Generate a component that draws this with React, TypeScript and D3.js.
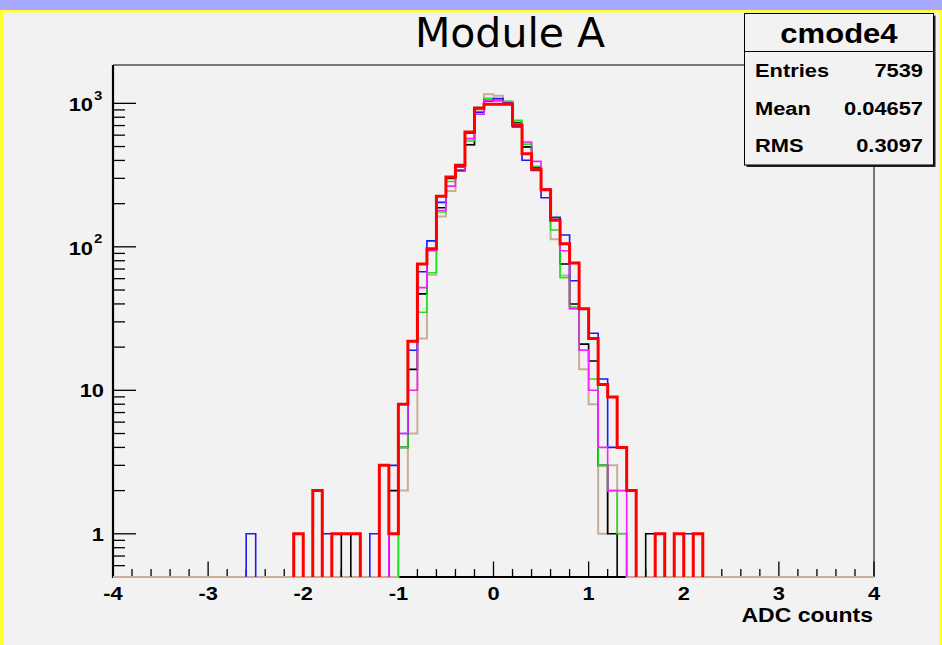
import React from "react";
import * as d3 from "d3";

// ---------- data ----------
const BIN_LOW = [
  -2.6, -2.5, -2.4, -2.3, -2.2, -2.1, -2.0, -1.9, -1.8, -1.7,
  -1.6, -1.5, -1.4, -1.3, -1.2, -1.1, -1.0, -0.9, -0.8, -0.7,
  -0.6, -0.5, -0.4, -0.3, -0.2, -0.1, 0.0, 0.1, 0.2, 0.3,
  0.4, 0.5, 0.6, 0.7, 0.8, 0.9, 1.0, 1.1, 1.2, 1.3,
  1.4, 1.5, 1.6, 1.7, 1.8, 1.9, 2.0, 2.1,
];
const BIN_WIDTH = 0.1;

const tanCounts = [
  0, 0, 0, 0, 0, 0, 0, 0, 0, 0,
  0, 0, 0, 0, 0, 0, 2, 5, 23, 64,
  163, 245, 370, 515, 905, 1158, 1130, 1030, 740, 497,
  360, 250, 113, 63, 37, 14, 8, 1, 3, 1,
  0, 0, 0, 0, 0, 0, 0, 0,
];
const blackCounts = [
  0, 0, 0, 0, 0, 0, 0, 0, 0, 0,
  1, 0, 0, 0, 0, 2, 4, 14, 47, 97,
  187, 300, 341, 515, 935, 1040, 1050, 1007, 730, 497,
  360, 250, 160, 76, 40, 21, 16, 3, 1, 0,
  0, 0, 1, 0, 0, 0, 0, 0,
];
const greenCounts = [
  0, 0, 0, 0, 0, 0, 0, 0, 0, 0,
  0, 0, 0, 0, 0, 0, 4, 22, 35, 66,
  175, 285, 364, 546, 872, 1085, 1060, 1035, 762, 520,
  364, 250, 131, 61, 38, 19, 12, 3, 2, 1,
  0, 0, 0, 0, 0, 0, 0, 0,
];
const blueCounts = [
  1, 0, 0, 0, 0, 0, 0, 0, 1, 0,
  0, 0, 0, 1, 0, 3, 5, 19, 67, 110,
  204, 307, 360, 620, 863, 1050, 1080, 1000, 685, 401,
  340, 220, 160, 121, 58, 37, 25, 12, 4, 4,
  2, 0, 0, 1, 0, 0, 1, 0,
];
const magentaCounts = [
  0, 0, 0, 0, 0, 0, 0, 0, 0, 0,
  0, 0, 0, 0, 0, 1, 5, 10, 52, 94,
  179, 265, 336, 568, 840, 1047, 1040, 1000, 720, 538,
  394, 254, 153, 94, 37, 19, 10, 4, 2, 2,
  0, 0, 0, 0, 0, 0, 0, 0,
];
const redCounts = [
  0, 0, 0, 0, 0, 1, 0, 2, 0, 1,
  1, 1, 0, 0, 3, 1, 8, 22, 76, 97,
  225, 307, 370, 632, 925, 986, 986, 986, 703, 446,
  347, 250, 153, 105, 77, 37, 23, 11, 9, 4,
  2, 0, 0, 1, 0, 1, 0, 1,
];

const X_MAJOR = [-4, -3, -2, -1, 0, 1, 2, 3, 4];
const X_MAJOR_LABELS = ["-4", "-3", "-2", "-1", "0", "1", "2", "3", "4"];
const Y_MAJOR = [1, 10, 100, 1000];
const Y_MAJOR_LABELS: [string, string][] = [["1", ""], ["10", ""], ["10", "2"], ["10", "3"]];

const TITLE = "Module A";
const X_TITLE = "ADC counts";
const STATS_NAME = "cmode4";
const STATS_KEYS = ["Entries", "Mean", "RMS"];
const STATS_VALUES = ["7539", "0.04657", "0.3097"];

// ---------- layout ----------
const W = 942;
const H = 645;
const FL = 113, FR = 874, FT = 65, FB = 577;
const BG = "#f2f2f2";
const HELV = "'Liberation Sans', Arial, Helvetica, sans-serif";
const SX = 1.15;

const x = d3.scaleLinear().domain([-4, 4]).range([FL, FR]);
const y = d3.scaleLog().domain([0.5, 1850]).range([FB, FT]);

function runsPath(vals: number[]): string {
  const yb = FB;
  let d = "";
  let inRun = false;
  vals.forEach((v, i) => {
    const lo = BIN_LOW[i];
    const hi = lo + BIN_WIDTH;
    if (v > 0) {
      if (!inRun) {
        d += `M${x(lo)},${yb}`;
        inRun = true;
      }
      d += `V${y(v)}H${x(hi)}`;
    } else if (inRun) {
      d += `V${yb}`;
      inRun = false;
    }
  });
  if (inRun) d += `V${yb}`;
  return d;
}

function fullPath(vals: number[]): string {
  const yb = FB;
  let d = `M${x(-4)},${yb}H${x(BIN_LOW[0])}`;
  vals.forEach((v, i) => {
    const hi = BIN_LOW[i] + BIN_WIDTH;
    d += `V${v > 0 ? y(v) : yb}H${x(hi)}`;
  });
  d += `V${yb}H${x(4)}`;
  return d;
}

function SText(props: {
  x: number; y: number; anchor?: string; size: number; sx?: number;
  children: React.ReactNode; family?: string; weight?: string;
}) {
  const { x: px, y: py, anchor = "start", size, sx = SX, family = HELV, weight = "bold" } = props;
  return (
    <text
      transform={`translate(${px},${py}) scale(${sx},1)`}
      textAnchor={anchor as any}
      fontFamily={family}
      fontWeight={weight}
      fontSize={size}
      fill="#000"
    >
      {props.children}
    </text>
  );
}

export default function App() {
  const xMinor = d3.range(-40, 41, 2).map((k) => k / 10).filter((v) => Math.abs(v - Math.round(v)) > 1e-6);
  const yMinor: number[] = [];
  [0.1, 1, 10, 100, 1000].forEach((dec) => {
    for (let m = 2; m <= 9; m++) {
      const v = m * dec;
      if (v > 0.5 && v < 1850) yMinor.push(v);
    }
  });

  const series = [
    { vals: blackCounts, color: "#000000", w: 1.6 },
    { vals: greenCounts, color: "#1ee61e", w: 1.6 },
    { vals: blueCounts, color: "#1a1aff", w: 1.6 },
    { vals: magentaCounts, color: "#ff1aff", w: 1.6 },
    { vals: redCounts, color: "#ff0000", w: 3 },
  ];

  const boxL = 744.5, boxT = 13.5, boxW = 189, boxH = 151.5;

  return (
    <svg
      width={W}
      height={H}
      style={{ position: "absolute", left: 0, top: 0, display: "block" }}
    >
      {/* canvas */}
      <rect x={0} y={0} width={W} height={H} fill={BG} />
      <rect x={0} y={0} width={W} height={10} fill="#a8a8ff" />
      <rect x={0} y={10} width={W} height={2.5} fill="#ffff33" />
      <rect x={0} y={10} width={3} height={H - 10} fill="#ffff33" />
      <rect x={W - 3} y={10} width={3} height={H - 10} fill="#ffff33" />

      {/* frame */}
      <line x1={FL} x2={FR} y1={FT} y2={FT} stroke="#000" strokeWidth={1} />
      <line x1={FR} x2={FR} y1={FT} y2={FB} stroke="#000" strokeWidth={1} />
      <line x1={FL} x2={FR} y1={FB} y2={FB} stroke="#000" strokeWidth={2.2} />
      <line x1={FL} x2={FL} y1={FT} y2={FB + 1} stroke="#000" strokeWidth={2.2} />

      {/* x ticks */}
      {X_MAJOR.map((v) => (
        <line key={"xM" + v} x1={x(v)} x2={x(v)} y1={FB} y2={FB - 15.5} stroke="#000" strokeWidth={1.3} />
      ))}
      {xMinor.map((v) => (
        <line key={"xm" + v} x1={x(v)} x2={x(v)} y1={FB} y2={FB - 8} stroke="#000" strokeWidth={1.3} />
      ))}
      {/* y ticks */}
      {Y_MAJOR.map((v) => (
        <line key={"yM" + v} x1={FL} x2={FL + 23} y1={y(v)} y2={y(v)} stroke="#000" strokeWidth={1.3} />
      ))}
      {yMinor.map((v) => (
        <line key={"ym" + v} x1={FL} x2={FL + 12} y1={y(v)} y2={y(v)} stroke="#000" strokeWidth={1.3} />
      ))}

      {/* histograms */}
      <path d={fullPath(tanCounts)} fill="none" stroke="#c8ae96" strokeWidth={2} />
      {series.map((s, i) => (
        <path key={i} d={runsPath(s.vals)} fill="none" stroke={s.color} strokeWidth={s.w} />
      ))}

      {/* x labels */}
      {X_MAJOR.map((v, i) => (
        <SText key={"xl" + v} x={x(v)} y={599.5} anchor="middle" size={19}>
          {X_MAJOR_LABELS[i]}
        </SText>
      ))}
      <SText x={873} y={622} anchor="end" size={20}>
        {X_TITLE}
      </SText>

      {/* y labels */}
      {Y_MAJOR.map((v, i) => {
        const [base, sup] = Y_MAJOR_LABELS[i];
        if (!sup) {
          return (
            <SText key={"yl" + v} x={104} y={y(v) + 7} anchor="end" size={19}>
              {base}
            </SText>
          );
        }
        return (
          <g key={"yl" + v}>
            <SText x={93} y={y(v) + 8} anchor="end" size={19}>
              {base}
            </SText>
            <SText x={94} y={y(v) - 3.5} anchor="start" size={13}>
              {sup}
            </SText>
          </g>
        );
      })}

      {/* title */}
      <text
        x={510}
        y={47}
        textAnchor="middle"
        fontFamily="'DejaVu Sans', sans-serif"
        fontSize={41}
        fill="#000"
      >
        {TITLE}
      </text>

      {/* stats box */}
      <rect x={boxL + 2} y={boxT + 2} width={boxW} height={boxH} fill="#222" />
      <rect x={boxL} y={boxT} width={boxW} height={boxH} fill={BG} stroke="#000" strokeWidth={1} />
      <line x1={boxL} x2={boxL + boxW} y1={51.5} y2={51.5} stroke="#000" strokeWidth={1} />
      <SText x={boxL + boxW / 2} y={42.5} anchor="middle" size={27}>
        {STATS_NAME}
      </SText>
      {STATS_KEYS.map((k, i) => (
        <g key={k}>
          <SText x={755} y={77 + i * 37.5} size={19}>
            {k}
          </SText>
          <SText x={923} y={77 + i * 37.5} anchor="end" size={19}>
            {STATS_VALUES[i]}
          </SText>
        </g>
      ))}
    </svg>
  );
}
